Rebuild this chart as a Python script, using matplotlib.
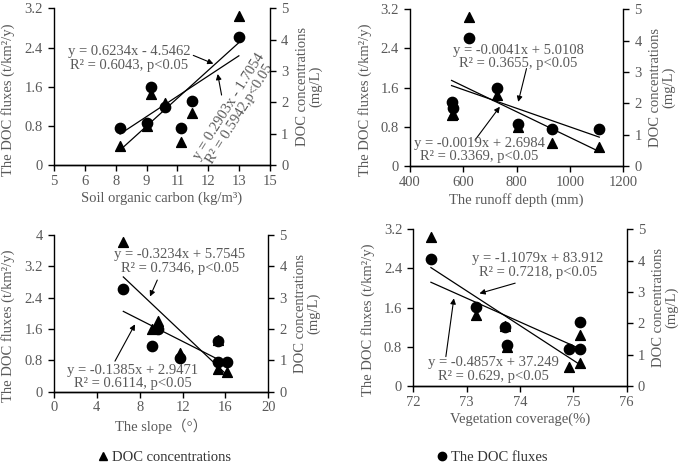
import numpy as np
import matplotlib
matplotlib.use('Agg')
import matplotlib.pyplot as plt
from matplotlib.lines import Line2D

plt.rcParams['font.family'] = ['Liberation Serif', 'Noto Sans CJK SC']

GRAY = '#595959'

# ---- data ----
soc_x = [8.06, 9.32, 9.47, 10.14, 10.86, 11.37, 13.56]
soc_flux = [0.76, 0.86, 1.59, 1.19, 0.76, 1.31, 2.62]
soc_conc = [0.62, 1.24, 2.26, 1.99, 0.74, 1.65, 4.76]
soc_xticks = [5, 6, 8, 9, 11, 12, 13, 15]

runoff_x = [556, 560, 622.5, 727.5, 806, 934, 1110]
runoff_flux = [1.31, 1.18, 2.61, 1.59, 0.86, 0.75, 0.75]
runoff_conc = [1.63, 1.65, 4.74, 2.27, 1.26, 0.74, 0.62]
runoff_xticks = [400, 600, 800, 1000, 1200]

slope_x = [6.47, 9.18, 9.74, 11.76, 15.33, 15.33, 16.11]
slope_flux = [2.61, 1.17, 1.59, 0.85, 1.30, 0.77, 0.77]
slope_conc = [4.77, 1.99, 2.26, 1.22, 1.65, 0.74, 0.64]
slope_xticks = [0, 4, 8, 12, 16, 20]

veg_x = [72.33, 73.18, 73.71, 73.76, 74.91, 75.13, 75.13]
veg_flux = [2.59, 1.61, 1.20, 0.84, 0.75, 0.75, 1.31]
veg_conc = [4.74, 2.27, 1.91, 1.26, 0.62, 0.74, 1.63]
veg_xticks = [72, 73, 74, 75, 76]

flux_ticks = ['0', '0.8', '1.6', '2.4', '3.2']
flux_ticks_slope = ['0', '0.8', '1.6', '2.4', '3.2', '4']
conc_ticks = ['0', '1', '2', '3', '4', '5']

# fit equations (slope, intercept) as printed on the chart
soc_fit_conc = (0.6234, -4.5462)
soc_fit_flux = (0.2903, -1.7054)
runoff_fit_conc = (-0.0041, 5.0108)
runoff_fit_flux = (-0.0019, 2.6984)
slope_fit_conc = (-0.3234, 5.7545)
slope_fit_flux = (-0.1385, 2.9471)
veg_fit_conc = (-1.1079, 83.912)
veg_fit_flux = (-0.4857, 37.249)


def draw_panel(rect, x, flux, conc, fit_flux, fit_conc, xticks, xticklabels,
               yticklabels, xlabel):
    ax = fig.add_axes(rect)
    ax2 = ax.twinx()
    xmin, xmax = xticks[0], xticks[-1]
    ymax = float(yticklabels[-1])

    ax.set_xlim(xmin, xmax)
    ax.set_ylim(0, ymax)
    ax2.set_ylim(0, 5)
    ax.set_xticks(np.linspace(xmin, xmax, len(xticklabels)))
    ax.set_xticklabels(xticklabels)
    ax.set_yticks([float(t) for t in yticklabels])
    ax.set_yticklabels(yticklabels)
    ax2.set_yticks([float(t) for t in conc_ticks])
    ax2.set_yticklabels(conc_ticks)

    for a in (ax, ax2):
        a.spines['top'].set_visible(False)
        for s in ('left', 'right', 'bottom'):
            a.spines[s].set_linewidth(1.0)
        a.tick_params(direction='out', length=4, width=1.0, labelsize=10.5,
                      labelcolor=GRAY, pad=4)
    ax.tick_params(axis='x', pad=3)
    ax.spines['right'].set_visible(False)
    ax2.spines['left'].set_visible(False)

    ax.scatter(x, flux, marker='o', s=55, color='black', zorder=3)
    ax2.scatter(x, conc, marker='^', s=50, color='black', zorder=3)

    xs = np.array([min(x), max(x)])
    ax.plot(xs, fit_flux[0] * xs + fit_flux[1], color='black', lw=0.9)
    ax2.plot(xs, fit_conc[0] * xs + fit_conc[1], color='black', lw=0.9)

    ax.set_xlabel(xlabel, fontsize=10.5, color=GRAY, labelpad=3)
    ax.set_ylabel('The DOC fluxes (t/km²/y)', fontsize=10.5, color=GRAY)
    ax.yaxis.set_label_coords(-0.18, 0.42)
    ax2.set_ylabel('DOC concentrations\n(mg/L)', fontsize=10.5, color=GRAY,
                   linespacing=1.0)
    ax2.yaxis.set_label_coords(1.12, 0.5)
    return ax


def note(ax, text, xytext, rotation=0):
    ax.text(xytext[0], xytext[1], text, fontsize=10.5, color=GRAY, ha='center',
            va='center', rotation=rotation, linespacing=1.05, zorder=4)


def arrow(ax, tail, head):
    ax.annotate('', xy=head, xytext=tail,
                arrowprops=dict(arrowstyle='-|>', color='black', lw=0.8,
                                mutation_scale=8, shrinkA=0, shrinkB=0))


fig = plt.figure(figsize=(6.85, 4.65), dpi=100)

# soil organic carbon
ax = draw_panel([0.0788, 0.645, 0.3153, 0.337], soc_x, soc_flux, soc_conc,
                soc_fit_flux, soc_fit_conc, soc_xticks, [str(t) for t in soc_xticks],
                flux_ticks, 'Soil organic carbon (kg/m³)')
note(ax, 'y = 0.6234x - 4.5462\nR² = 0.6043, p<0.05', (8.47, 2.18))
arrow(ax, (11.45, 2.24), (12.38, 2.07))
note(ax, 'y = 0.2903x - 1.7054\nR² = 0.5942,p<0.05', (13.35, 1.12), rotation=58)
arrow(ax, (12.76, 1.43), (12.58, 1.86))

# runoff depth
ax = draw_panel([0.5985, 0.643, 0.3114, 0.337], runoff_x, runoff_flux, runoff_conc,
                runoff_fit_flux, runoff_fit_conc, runoff_xticks,
                [str(t) for t in runoff_xticks], flux_ticks, 'The runoff depth (mm)')
note(ax, 'y = -0.0041x + 5.0108\nR² = 0.3655, p<0.05', (805, 2.23))
arrow(ax, (837, 1.99), (806, 1.31))
note(ax, 'y = -0.0019x + 2.6984\nR² = 0.3369, p<0.05', (659, 0.33))
arrow(ax, (644, 0.53), (737, 1.21))

# slope
ax = draw_panel([0.0788, 0.1576, 0.3129, 0.337], slope_x, slope_flux, slope_conc,
                slope_fit_flux, slope_fit_conc, slope_xticks,
                [str(t) for t in slope_xticks], flux_ticks_slope, 'The slope（°）')
note(ax, 'y = -0.3234x + 5.7545\nR² = 0.7346, p<0.05', (11.76, 3.32))
arrow(ax, (9.64, 2.85), (8.96, 2.43))
note(ax, 'y = -0.1385x + 2.9471\nR² = 0.6114, p<0.05', (7.33, 0.38))
arrow(ax, (5.69, 0.78), (7.56, 1.72))

# vegetation coverage
ax = draw_panel([0.6034, 0.1699, 0.3114, 0.337], veg_x, veg_flux, veg_conc,
                veg_fit_flux, veg_fit_conc, veg_xticks,
                [str(t) for t in veg_xticks], flux_ticks, 'Vegetation coverage(%)')
note(ax, 'y = -1.1079x + 83.912\nR² = 0.7218, p<0.05', (74.34, 2.46))
arrow(ax, (73.91, 2.10), (73.24, 1.89))
note(ax, 'y = -0.4857x + 37.249\nR² = 0.629, p<0.05', (73.5, 0.34))
arrow(ax, (72.61, 0.60), (72.76, 1.79))

# legends
tri = Line2D([], [], marker='^', color='black', ls='none', markersize=6)
dot = Line2D([], [], marker='o', color='black', ls='none', markersize=6)
fig.legend(handles=[tri], labels=['DOC concentrations'], loc='center left',
           bbox_to_anchor=(0.131, 0.016), frameon=False, fontsize=10.5,
           handletextpad=0.1, handlelength=1.0, borderaxespad=0, labelcolor='#333333')
fig.legend(handles=[dot], labels=['The DOC fluxes'], loc='center left',
           bbox_to_anchor=(0.626, 0.016), frameon=False, fontsize=10.5,
           handletextpad=0.1, handlelength=1.0, borderaxespad=0, labelcolor='#333333')

fig.savefig('out.png', dpi=100)
